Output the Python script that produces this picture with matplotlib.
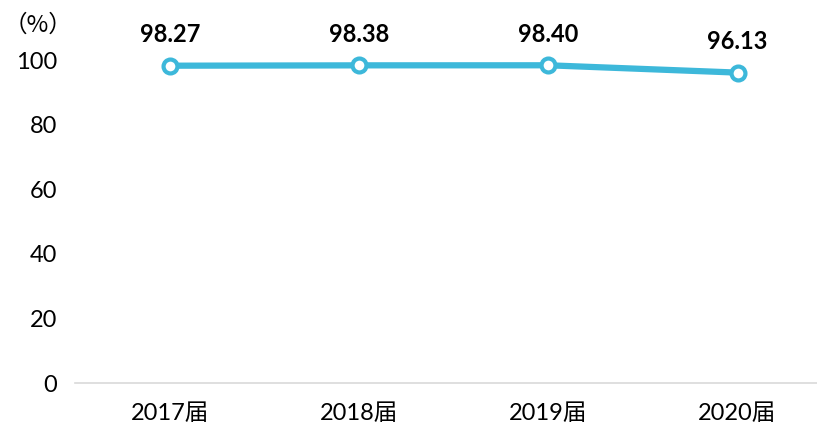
import matplotlib.pyplot as plt

# data
years = ['2017届', '2018届', '2019届', '2020届']
rates = [98.27, 98.38, 98.40, 96.13]
yticks = [0, 20, 40, 60, 80, 100]

plt.rcParams['font.family'] = ['Lato', 'Noto Sans CJK SC', 'DejaVu Sans']

fig = plt.figure(figsize=(8.17, 4.28), dpi=100)
ax = fig.add_axes([0.092, 0.105, 0.908, 0.83])

x = range(len(years))
ax.plot(x, rates, color='#3db8da', linewidth=4.5, marker='o', markersize=10,
        markerfacecolor='white', markeredgecolor='#3db8da', markeredgewidth=3,
        clip_on=False, zorder=3)

# value labels above the points
for i, v in zip(x, rates):
    ax.annotate(f'{v:.2f}', (i, v), xytext=(0, 17), textcoords='offset points',
                ha='center', va='baseline', fontsize=17, fontweight='bold')

ax.set_xlim(-0.5, 3.42)
ax.set_ylim(0, 110)
ax.set_xticks(list(x))
ax.set_xticklabels(years, fontsize=17)
ax.set_yticks(yticks)
ax.set_yticklabels([str(t) for t in yticks], fontsize=17)
ax.tick_params(length=0, pad=14)
ax.tick_params(axis='y', pad=13)

for side in ['top', 'right', 'left']:
    ax.spines[side].set_visible(False)
ax.spines['bottom'].set_color('#d9d9d9')
ax.spines['bottom'].set_linewidth(1.2)

fig.text(0.005, 0.94, '（%）', fontsize=17, va='center', ha='left',
         family=['Noto Sans CJK SC', 'DejaVu Sans'])

fig.savefig('out.png', dpi=100)
